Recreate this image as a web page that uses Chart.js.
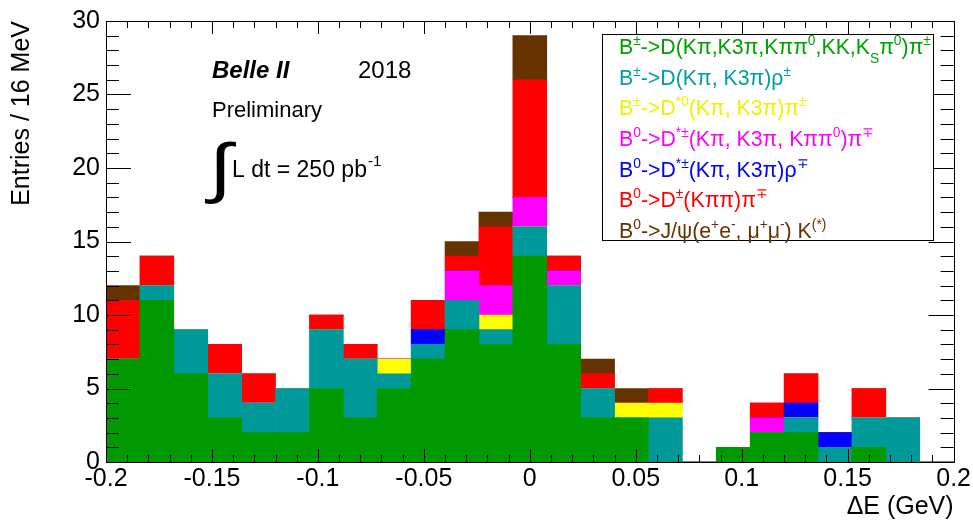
<!DOCTYPE html>
<html>
<head>
<meta charset="utf-8">
<script src="https://cdn.jsdelivr.net/npm/chart.js@4.4.1/dist/chart.umd.min.js"></script>
<style>
html,body{margin:0;padding:0;background:#fff;}
#wrap{width:973px;height:520px;position:relative;}
</style>
</head>
<body>
<div id="wrap"><canvas id="c" width="973" height="520"></canvas></div>
<script>
// Bin centres (ΔE in GeV), 16 MeV bins from -0.2 to 0.2
const binCenters = [-0.192,-0.176,-0.160,-0.144,-0.128,-0.112,-0.096,-0.080,-0.064,-0.048,-0.032,-0.016,0.000,0.016,0.032,0.048,0.064,0.080,0.096,0.112,0.128,0.144,0.160,0.176,0.192];
// Entries per bin for each decay channel (stacked bottom to top)
const dPi      = [7,11,6,3,2,2,5,3,5,7,9,8,14,8,3,3,0,0,1,2,2,0,1,0,0];
const dRho     = [0,1,3,3,2,3,4,4,1,1,2,1,2,4,2,0,3,0,0,0,1,1,2,3,0];
const dStar0Pi = [0,0,0,0,0,0,0,0,1,0,0,1,0,0,0,1,1,0,0,0,0,0,0,0,0];
const dStarPi  = [0,0,0,0,0,0,0,0,0,0,2,2,2,1,0,0,0,0,0,1,0,0,0,0,0];
const dStarRho = [0,0,0,0,0,0,0,0,0,1,0,0,0,0,0,0,0,0,0,0,1,1,0,0,0];
const dPlusPi  = [4,2,0,2,2,0,1,1,0,2,1,4,8,1,1,0,1,0,0,1,2,0,2,0,0];
const jpsiK    = [1,0,0,0,0,0,0,0,0,0,1,1,3,0,1,1,0,0,0,0,0,0,0,0,0];
// Legend labels (^{} superscript, _{} subscript)
const seriesLabels = [
  'B^{±}->D(Kπ,K3π,Kππ^{0},KK,K_{S}π^{0})π^{±}',
  'B^{±}->D(Kπ, K3π)ρ^{±}',
  'B^{±}->D^{*0}(Kπ, K3π)π^{±}',
  'B^{0}->D^{*±}(Kπ, K3π, Kππ^{0})π^{∓}',
  'B^{0}->D^{*±}(Kπ, K3π)ρ^{∓}',
  'B^{0}->D^{±}(Kππ)π^{∓}',
  'B^{0}->J/ψ(e^{+}e^{-}, μ^{+}μ^{-}) K^{(*)}'
];
const seriesValues = [dPi, dRho, dStar0Pi, dStarPi, dStarRho, dPlusPi, jpsiK];
const seriesColors = ['#009900','#009999','#ffff00','#ff00ff','#0000ff','#ff0000','#663300'];
const legendTextColors = ['#00a000','#00a0a0','#f0f000','#ff00ff','#0000ff','#ff0000','#663300'];
const yTickStep = 5, yMax = 30;
const xMin = -0.2, xMax = 0.2, xTickStep = 0.05;

const FONT = "'Liberation Sans', Arial, Helvetica, sans-serif";

function drawRich(ctx, str, x, y, size, color){
  const re = /(\^\{[^}]*\}|_\{[^}]*\}|[^\^_]+)/g;
  let m; let cx = x;
  ctx.fillStyle = color;
  ctx.textBaseline = 'alphabetic';
  ctx.textAlign = 'left';
  while((m = re.exec(str))){
    let t = m[0];
    let s = size, dy = 0;
    if(t.startsWith('^{')){ t = t.slice(2,-1); s = size*0.65; dy = -size*0.42; }
    else if(t.startsWith('_{')){ t = t.slice(2,-1); s = size*0.65; dy = size*0.42; }
    ctx.font = s.toFixed(1)+'px '+FONT;
    ctx.fillText(t, cx, y+dy);
    cx += ctx.measureText(t).width;
  }
}

const frameTicks = {
  id:'frameTicks',
  afterDatasetsDraw(chart){
    const {ctx, chartArea:a, scales:{x,y}} = chart;
    ctx.save();
    ctx.strokeStyle = '#000';
    ctx.lineWidth = 1;
    ctx.beginPath();
    for(let v=0; v<=yMax; v++){
      const py = Math.round(y.getPixelForValue(v))+0.5;
      const len = (v % yTickStep === 0) ? 25 : 13;
      ctx.moveTo(a.left, py); ctx.lineTo(a.left+len, py);
      ctx.moveTo(a.right, py); ctx.lineTo(a.right-len, py);
    }
    for(let k=0; k<=40; k++){
      const v = xMin + k*0.01;
      const px = Math.round(x.getPixelForValue(v))+0.5;
      const len = (k % 5 === 0) ? 13 : 7;
      ctx.moveTo(px, a.bottom); ctx.lineTo(px, a.bottom-len);
      ctx.moveTo(px, a.top); ctx.lineTo(px, a.top+len);
    }
    ctx.stroke();
    ctx.strokeRect(Math.round(a.left)+0.5, Math.round(a.top)+0.5, Math.round(a.right-a.left), Math.round(a.bottom-a.top));
    ctx.restore();
  }
};

const annotations = {
  id:'annotations',
  afterDraw(chart){
    const ctx = chart.ctx;
    ctx.save();
    ctx.fillStyle = '#000';
    ctx.textBaseline = 'alphabetic';
    ctx.textAlign = 'left';
    ctx.font = 'italic bold 24px '+FONT;
    ctx.fillText('Belle II', 212, 78);
    ctx.font = '24px '+FONT;
    ctx.fillText('2018', 358, 78);
    ctx.font = '22px '+FONT;
    ctx.fillText('Preliminary', 212, 117);
    // integral sign
    ctx.save();
    ctx.translate(209, 190);
    ctx.scale(1.9, 1.5);
    ctx.font = '44px '+FONT;
    ctx.fillText('∫', 0, 0);
    ctx.restore();
    ctx.font = '23px '+FONT;
    const s = 'L dt = 250 pb';
    ctx.fillText(s, 232, 177);
    const w = ctx.measureText(s).width;
    ctx.font = '15px '+FONT;
    ctx.fillText('-1', 232+w+1, 166);

    // legend box
    const bx = 602, by = 34, bw = 331, bh = 206;
    ctx.fillStyle = '#fff';
    ctx.fillRect(bx, by, bw, bh);
    ctx.strokeStyle = '#000';
    ctx.lineWidth = 1;
    ctx.strokeRect(bx+0.5, by+0.5, bw, bh);
    for(let i=0;i<seriesLabels.length;i++){
      drawRich(ctx, seriesLabels[i], 619, 54 + i*30.67, 21.3, legendTextColors[i]);
    }
    ctx.restore();
  }
};

const datasets = seriesValues.map((vals, i) => ({
  label: seriesLabels[i],
  data: binCenters.map((c, j) => ({x: c, y: vals[j]})),
  backgroundColor: seriesColors[i],
  borderWidth: 0,
  barPercentage: 1,
  categoryPercentage: 1,
  stack: 's'
}));

new Chart(document.getElementById('c'), {
  type: 'bar',
  data: { datasets },
  options: {
    responsive: false,
    animation: false,
    devicePixelRatio: 1,
    layout: { padding: { top: 14, right: 18, left: 0, bottom: 0 } },
    plugins: { legend: { display: false }, tooltip: { enabled: false } },
    scales: {
      x: {
        type: 'linear', min: xMin, max: xMax, offset: false, stacked: true,
        grid: { display: false, drawTicks: false },
        border: { display: false },
        ticks: {
          stepSize: xTickStep, autoSkip: false, maxRotation: 0, padding: 2,
          color: '#000', font: { size: 25, family: FONT },
          callback: v => parseFloat(Number(v).toFixed(3)).toString()
        },
        title: { display: true, text: 'ΔE (GeV)', align: 'end', color: '#000',
          font: { size: 25, family: FONT, lineHeight: 1 }, padding: { top: 0, bottom: 0 } },
        afterFit(s){ s.height = 58; }
      },
      y: {
        min: 0, max: yMax, stacked: true,
        grid: { display: false, drawTicks: false },
        border: { display: false },
        ticks: { stepSize: yTickStep, padding: 6, color: '#000', font: { size: 25, family: FONT } },
        title: { display: true, text: 'Entries / 16 MeV', align: 'end', color: '#000',
          font: { size: 25, family: FONT, lineHeight: 1 }, padding: { top: 10, bottom: 0 } },
        afterFit(s){ s.width = 106; }
      }
    }
  },
  plugins: [frameTicks, annotations]
});
</script>
</body>
</html>
